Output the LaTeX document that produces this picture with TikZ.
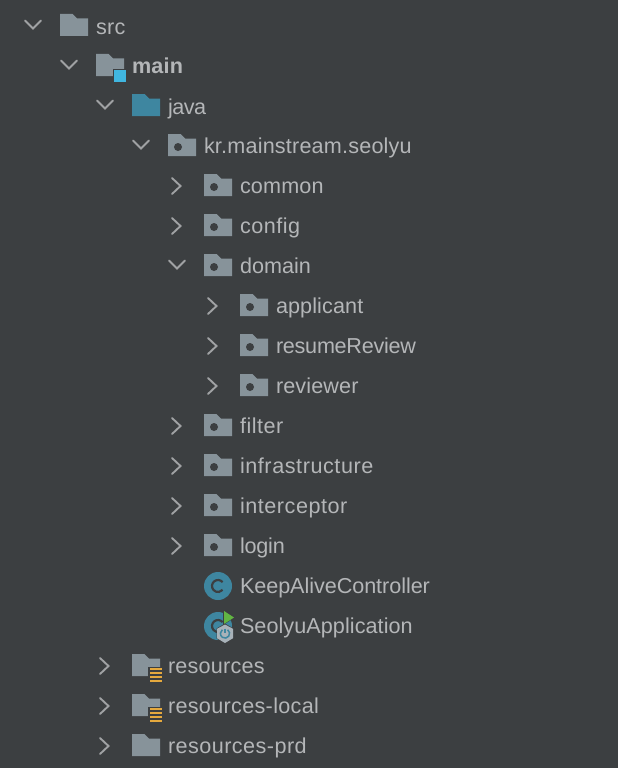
\documentclass[tikz,border=0pt]{standalone}
\usepackage{fontspec}
\setmainfont{Liberation Sans}
\definecolor{bgc}{HTML}{3C3F41}
\definecolor{folderc}{HTML}{87939A}
\definecolor{javac}{HTML}{3E86A0}
\definecolor{txtc}{HTML}{B4B6B8}
\definecolor{chevc}{HTML}{A0A2A4}
\definecolor{sqc}{HTML}{40B6E0}
\definecolor{yelc}{HTML}{E5A93E}
\definecolor{grnc}{HTML}{62B543}
\definecolor{gearc}{HTML}{A8B2B9}
\tikzset{
  chev/.style={draw=chevc,line width=1.9pt,line cap=round,line join=miter,fill=none},
  label/.style={anchor=base west,inner sep=0pt,outer sep=0pt,text=txtc,font=\fontsize{21.6}{24}\selectfont},
  blabel/.style={label,font=\fontsize{21.6}{24}\selectfont\bfseries},
}
\newcommand{\ls}[2]{{\addfontfeature{LetterSpace=#1}#2}}
\newcommand{\fldr}[3]{\fill[#3] (#1,#2-12) -- ++(12.5,0) -- ++(4.5,4.5) -- (#1+28,#2-7.5) -- (#1+28,#2+10) -- (#1,#2+10) -- cycle;}
\newcommand{\pkg}[2]{\fldr{#1}{#2}{folderc}\fill[bgc] (#1+10,#2+1) circle (4);}
\newcommand{\cdown}[2]{\draw[chev] (#1-35,#2-5.5) -- (#1-27,#2+2.5) -- (#1-19,#2-5.5);}
\newcommand{\cright}[2]{\draw[chev] (#1-32,#2-8) -- (#1-23.5,#2) -- (#1-32,#2+8);}
\newcommand{\cglyph}[2]{\begin{scope}[shift={(#1,#2)},x=1pt,y=1pt]\draw[bgc,line width=2.2pt] (40:6) arc (40:320:6);\end{scope}}
\begin{document}
\begin{tikzpicture}[x=1pt,y=-1pt]
\useasboundingbox (0,0) rectangle (618,768);
\fill[bgc] (0,0) rectangle (618,768);
\cdown{60}{26}\fldr{60}{26}{folderc}
\node[label] (src) at (96,34.5) {\ls{1.5}{src}};
\cdown{96}{66}\fldr{96}{66}{folderc}
\fill[bgc] (113,69) rectangle (127,83);
\fill[sqc] (114,70) rectangle (126,82);
\node[blabel] (main) at (132,74) {\ls{1.2}{main}};
\cdown{132}{106}\fldr{132}{106}{javac}
\node[label] (java) at (168,114) {\ls{-2.3}{java}};
\cdown{168}{146}\pkg{168}{146}
\node[label] (kr) at (204,153.6) {\ls{0.9}{kr.mainstream.seolyu}};
\cright{204}{186}\pkg{204}{186}
\node[label] (common) at (240,193.5) {\ls{0.8}{common}};
\cright{204}{226}\pkg{204}{226}
\node[label] (config) at (240,233.5) {\ls{2.3}{config}};
\cdown{204}{266}\pkg{204}{266}
\node[label] (domain) at (240,273.5) {domain};
\cright{240}{306}\pkg{240}{306}
\node[label] (applicant) at (276,313.5) {\ls{0.5}{applicant}};
\cright{240}{346}\pkg{240}{346}
\node[label] (resumeReview) at (276,353.5) {\ls{-1.2}{resumeReview}};
\cright{240}{386}\pkg{240}{386}
\node[label] (reviewer) at (276,393.5) {\ls{0.6}{reviewer}};
\cright{204}{426}\pkg{204}{426}
\node[label] (filter) at (240,433.5) {\ls{2.3}{filter}};
\cright{204}{466}\pkg{204}{466}
\node[label] (infrastructure) at (240,473.5) {\ls{2.6}{infrastructure}};
\cright{204}{506}\pkg{204}{506}
\node[label] (interceptor) at (240,513.5) {\ls{2.5}{interceptor}};
\cright{204}{546}\pkg{204}{546}
\node[label] (login) at (240,553.5) {\ls{-0.9}{login}};
\fill[javac] (218,586) circle (14);
\cglyph{218}{586}
\node[label] (keep) at (240,593.5) {\ls{-0.25}{KeepAliveController}};
\fill[javac] (218,626) circle (14);
\cglyph{218}{626}
\fill[bgc] (223,610) -- (235,617.5) -- (223,625) -- cycle;
\fill[grnc] (224,611) -- (234,617.5) -- (224,624) -- cycle;
\fill[bgc] (225,643.5) -- (233.5,638.5) -- (233.5,628.5) -- (225,623.5) -- (216.5,628.5) -- (216.5,638.5) -- cycle;
\fill[gearc] (225,643) -- (233,638.2) -- (233,628.8) -- (225,624.5) -- (217,628.8) -- (217,638.2) -- cycle;
\begin{scope}[shift={(225,633.5)},x=1pt,y=1pt]
\draw[javac,line width=1.5pt] (55:4.6) arc (55:-235:4.6);
\draw[javac,line width=1.5pt] (0,5) -- (0,0.5);
\end{scope}
\node[label] (seolyu) at (240,633.5) {\ls{0.3}{SeolyuApplication}};
\cright{132}{666}\fldr{132}{666}{folderc}
\fill[bgc] (148,667) rectangle (161,677);
\foreach \yy in {669,673,677,681}{\fill[yelc] (150,\yy-1) rectangle (162,\yy+1);}
\node[label] (resources) at (168,673.5) {\ls{1}{resources}};
\cright{132}{706}\fldr{132}{706}{folderc}
\fill[bgc] (148,707) rectangle (161,717);
\foreach \yy in {709,713,717,721}{\fill[yelc] (150,\yy-1) rectangle (162,\yy+1);}
\node[label] (reslocal) at (168,713.5) {\ls{1.5}{resources-local}};
\cright{132}{746}\fldr{132}{746}{folderc}
\node[label] (resprd) at (168,753.5) {\ls{2.1}{resources-prd}};
\end{tikzpicture}
\end{document}
